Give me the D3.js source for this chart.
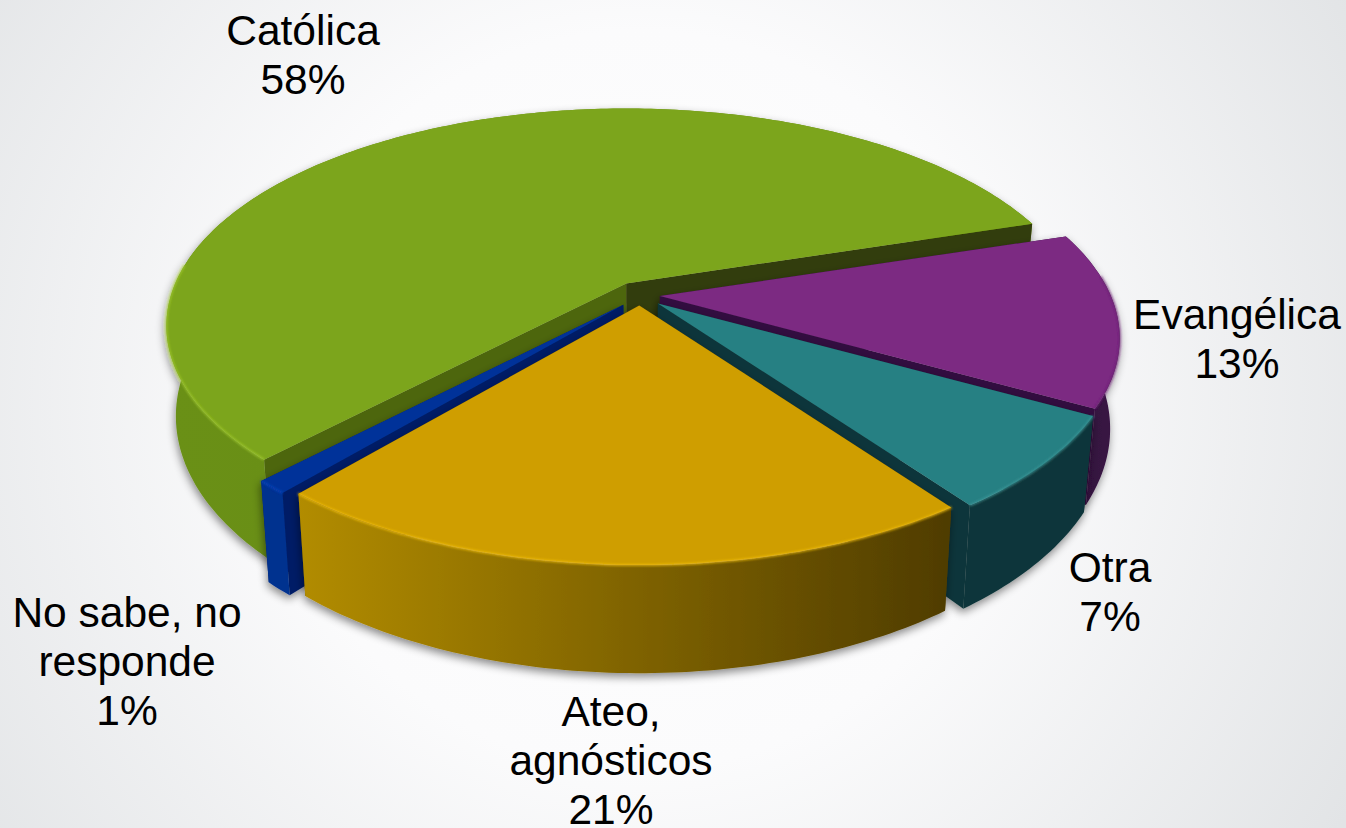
<!DOCTYPE html>
<html><head><meta charset="utf-8">
<style>html,body{margin:0;padding:0;overflow:hidden;background:#fff}svg{display:block}
text{font-family:"Liberation Sans",Arial,sans-serif;font-size:42.5px;fill:#000;text-anchor:middle}</style>
<script src="https://cdn.jsdelivr.net/npm/d3@7/dist/d3.min.js"></script>
</head><body><script>
// data
const categories = ["Católica","Evangélica","Otra","Ateo, agnósticos","No sabe, no responde"];
const values = [58,13,7,21,1];
const labelLines = [["Católica","58%"],["Evangélica","13%"],["Otra","7%"],["Ateo,","agnósticos","21%"],["No sabe, no","responde","1%"]];
const explode = [1.3,1,1.2,1,1.25];
// styles
const topColors = ["#7ca51c","#7b2a82","#278083","#cf9e00","#003399"];
const rimColors = ["#a3cc2e","#6a2272","#3f9c9e","#f2c010","#0a47c0"];
const wallEdge = [["#6a9018","#64881a"],["#2f0f3a","#3a1445"],["#11363a","#11363a"],["#b28c00","#4f3c00"],["#00308f","#00308f"]];
const radialColors = ["#333d08","#33103f","#11363a","#4f3c00","#001f66"];
const startWallColors = ["#4d660f","#33103f","#11363a","#4f3c00","#001f66"];
const labelPos = [[303,45],[1237,329],[1110,582],[611,726],[127,627]];
const W=1346,H=828,cx=640,cy=295,Rx=451,Ry=209,k=0.195,depth=87,shrink=0.98,ex=20,ey=10.5,lh=49;

const svg=d3.select("body").append("svg").attr("width",W).attr("height",H);
const defs=svg.append("defs");
const bg=defs.append("radialGradient").attr("id","bg").attr("gradientUnits","userSpaceOnUse")
  .attr("cx",640).attr("cy",400).attr("r",820);
bg.append("stop").attr("offset",0).attr("stop-color","#ffffff");
bg.append("stop").attr("offset",.45).attr("stop-color","#fbfbfc");
bg.append("stop").attr("offset",1).attr("stop-color","#e2e4e6");
svg.append("rect").attr("width",W).attr("height",H).attr("fill","url(#bg)");

const shadow=defs.append("filter").attr("id","sh").attr("x","-10%").attr("y","-10%").attr("width","120%").attr("height","125%");
shadow.append("feDropShadow").attr("dx",-1).attr("dy",4).attr("stdDeviation",4).attr("flood-color","#000").attr("flood-opacity",.45);
const blur=defs.append("filter").attr("id","bl");
blur.append("feGaussianBlur").attr("stdDeviation",.8);

const sx=d3.scaleLinear().domain([-1,1]).range([cx-Rx,cx+Rx]);
const sy=d3.scaleLinear().domain([-1,1]).range([cy-Ry,cy+Ry]);
const start=-136.4*Math.PI/180;
const arcs=d3.pie().sort(null).value(d=>d).startAngle(start).endAngle(start+2*Math.PI)(values);
const line=d3.line();

function proj(a,r,off,bottom){
  const u=r*Math.sin(a),v=-r*Math.cos(a),w=1-k*v;
  let X=sx(u/w)+off[0],Y=sy(v/w)+off[1];
  if(bottom){X=cx+(X-cx)*shrink;Y+=depth/w;}
  return [X,Y];
}
function rim(d,off,bottom){
  const n=Math.max(4,Math.ceil((d.endAngle-d.startAngle)*60));
  return d3.range(n+1).map(i=>proj(d.startAngle+(d.endAngle-d.startAngle)*i/n,1,off,bottom));
}
const order=[0,4,1,2,3];
order.forEach(i=>{
  const d=arcs[i],m=(d.startAngle+d.endAngle)/2;
  const off=[ex*explode[i]*Math.sin(m),-ey*explode[i]*Math.cos(m)];
  const g=svg.append("g").attr("filter","url(#sh)");
  const top=rim(d,off,false),bot=rim(d,off,true);
  const a=proj(0,0,off,false),ab=proj(0,0,off,true);
  const startWall=()=>g.append("path").attr("d",line([a,top[0],bot[0],ab])+"Z").attr("fill",startWallColors[i]);
  const endWall=()=>g.append("path").attr("d",line([a,top[top.length-1],bot[bot.length-1],ab])+"Z").attr("fill",radialColors[i]);
  const isBack=t=>Math.cos(t)>0;
  // radial walls on the near half go under the outer wall, those on the far half over it
  if(!isBack(d.startAngle)) startWall();
  if(!isBack(d.endAngle)) endWall();
  // outer wall
  const id="w"+i,xs=top.concat(bot).map(p=>p[0]);
  const gr=defs.append("linearGradient").attr("id",id).attr("gradientUnits","userSpaceOnUse")
    .attr("x1",d3.min(xs)).attr("x2",d3.max(xs)).attr("y1",0).attr("y2",0);
  gr.append("stop").attr("offset",0).attr("stop-color",wallEdge[i][0]);
  gr.append("stop").attr("offset",1).attr("stop-color",wallEdge[i][1]);
  g.append("path").attr("d",line(top.concat(bot.slice().reverse()))+"Z").attr("fill",`url(#${id})`);
  if(isBack(d.startAngle)) startWall();
  if(isBack(d.endAngle)) endWall();
  // top face, with a soft light edge along the near part of the rim only
  g.append("path").attr("d",line([a].concat(top))+"Z").attr("fill",topColors[i]);
  const near=rim(d,off,false).filter((p,j)=>{
    const t=d.startAngle+(d.endAngle-d.startAngle)*j/(top.length-1);
    return Math.cos(t)<0.1;
  });
  if(near.length>1) g.append("path").attr("d",line(near)).attr("fill","none").attr("stroke",rimColors[i]).attr("stroke-width",2).attr("stroke-opacity",.8).attr("filter","url(#bl)");
});
categories.forEach((c,i)=>{
  const t=svg.append("text").attr("x",labelPos[i][0]).attr("y",labelPos[i][1]);
  labelLines[i].forEach((s,j)=>t.append("tspan").attr("x",labelPos[i][0]).attr("dy",j?lh:0).text(s));
});
</script></body></html>
